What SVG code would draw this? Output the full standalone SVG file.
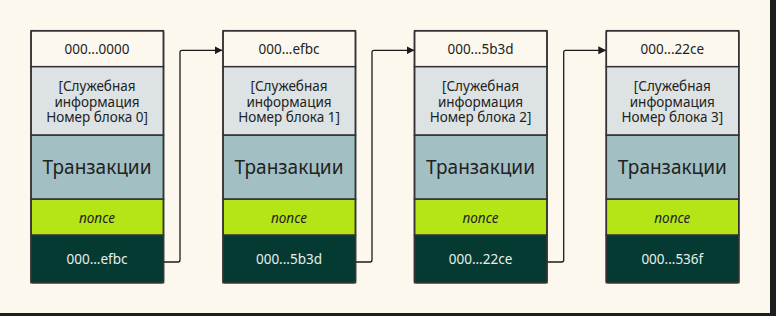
<svg xmlns="http://www.w3.org/2000/svg" width="776" height="316" viewBox="0 0 776 316">
  <defs>
    <style>
      .bg { fill: #fdf8ee; }
      .frame { fill: #1e1e1e; }
      .sec { stroke: #333; stroke-width: 1.5; }
      .hdr { fill: #fdf8ee; }
      .info { fill: #dde3e4; }
      .tx { fill: #a2c0c4; }
      .nonce { fill: #b5e517; }
      .hash { fill: #053a33; }
      .outline { fill: none; stroke: #333; stroke-width: 1.5; }
      text { font-family: "Noto Sans", "Open Sans", sans-serif; text-anchor: middle; dominant-baseline: central; fill: #222; }
      .t13 { font-size: 13.5px; }
      .tbig { font-size: 19px; }
      .tit { font-size: 13.5px; font-style: italic; }
      .light { fill: #e8efe9; }
      .link { fill: none; stroke: #1a1a1a; stroke-width: 1.3; }
    </style>
    <marker id="arrow" viewBox="0 0 8 8" refX="8" refY="4" markerWidth="8" markerHeight="8" markerUnits="userSpaceOnUse" orient="auto">
      <path d="M0,0 L8,4 L0,8 Z" fill="#1a1a1a"/>
    </marker>
    <g id="block-shape">
      <rect class="sec hdr" x="0" y="0" width="132.5" height="36"/>
      <rect class="sec info" x="0" y="36" width="132.5" height="68.5"/>
      <rect class="sec tx" x="0" y="104.5" width="132.5" height="64"/>
      <rect class="sec nonce" x="0" y="168.5" width="132.5" height="36"/>
      <rect class="sec hash" x="0" y="204.5" width="132.5" height="47.5"/>
      <rect class="outline" x="0" y="0" width="132.5" height="252" rx="2"/>
    </g>
  </defs>

  <rect class="bg" x="0" y="0" width="776" height="316"/>
  <rect class="frame" x="770" y="0" width="6" height="316"/>
  <rect class="frame" x="0" y="313" width="776" height="3"/>

  <g id="connectors">
    <path class="link" d="M163.5 262 H178 Q180 262 180 260 V52.3 Q180 50.3 182 50.3 H222.5" marker-end="url(#arrow)"/>
    <path class="link" d="M355.5 262 H370 Q372 262 372 260 V52.3 Q372 50.3 374 50.3 H414.5" marker-end="url(#arrow)"/>
    <path class="link" d="M547 262 H561.7 Q563.7 262 563.7 260 V52.3 Q563.7 50.3 565.7 50.3 H606.3" marker-end="url(#arrow)"/>
  </g>

  <g id="block0" transform="translate(31,30.7)">
    <use href="#block-shape"/>
    <text class="t13" x="66" y="18">000...0000</text>
    <text class="t13" x="66" y="55.5">[Служебная</text>
    <text class="t13" x="66" y="71">информация</text>
    <text class="t13" x="66" y="86.5">Номер блока 0]</text>
    <text class="tbig" x="66" y="136">Транзакции</text>
    <text class="tit" x="66" y="187">nonce</text>
    <text class="t13 light" x="66" y="228">000...efbc</text>
  </g>

  <g id="block1" transform="translate(223,30.7)">
    <use href="#block-shape"/>
    <text class="t13" x="66" y="18">000...efbc</text>
    <text class="t13" x="66" y="55.5">[Служебная</text>
    <text class="t13" x="66" y="71">информация</text>
    <text class="t13" x="66" y="86.5">Номер блока 1]</text>
    <text class="tbig" x="66" y="136">Транзакции</text>
    <text class="tit" x="66" y="187">nonce</text>
    <text class="t13 light" x="66" y="228">000...5b3d</text>
  </g>

  <g id="block2" transform="translate(414.5,30.7)">
    <use href="#block-shape"/>
    <text class="t13" x="66" y="18">000...5b3d</text>
    <text class="t13" x="66" y="55.5">[Служебная</text>
    <text class="t13" x="66" y="71">информация</text>
    <text class="t13" x="66" y="86.5">Номер блока 2]</text>
    <text class="tbig" x="66" y="136">Транзакции</text>
    <text class="tit" x="66" y="187">nonce</text>
    <text class="t13 light" x="66" y="228">000...22ce</text>
  </g>

  <g id="block3" transform="translate(606.3,30.7)">
    <use href="#block-shape"/>
    <text class="t13" x="66" y="18">000...22ce</text>
    <text class="t13" x="66" y="55.5">[Служебная</text>
    <text class="t13" x="66" y="71">информация</text>
    <text class="t13" x="66" y="86.5">Номер блока 3]</text>
    <text class="tbig" x="66" y="136">Транзакции</text>
    <text class="tit" x="66" y="187">nonce</text>
    <text class="t13 light" x="66" y="228">000...536f</text>
  </g>
</svg>
